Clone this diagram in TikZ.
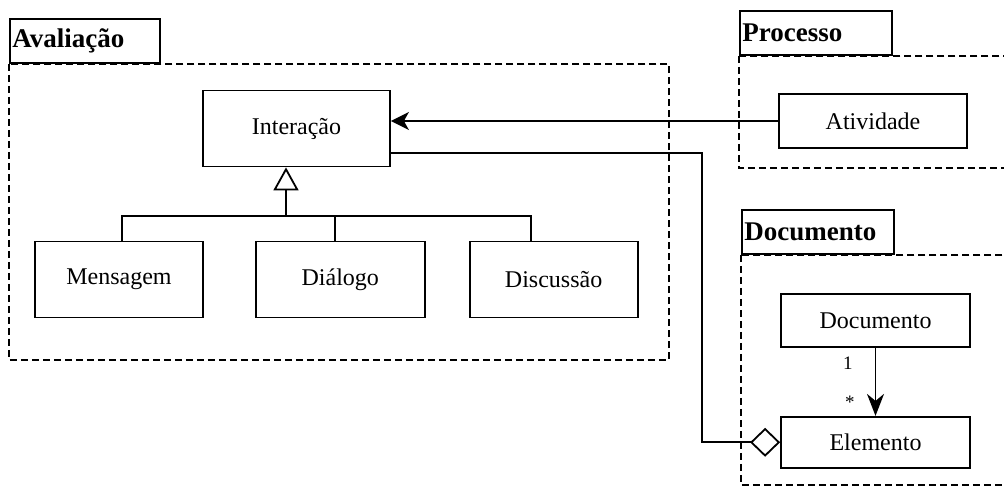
\documentclass[tikz,border=0pt]{standalone}
\usepackage{fontspec}
\setmainfont{Liberation Serif}
\newfontfamily\umlfont{Liberation Serif}
\usetikzlibrary{arrows.meta,positioning}

\begin{document}
\begin{tikzpicture}[x=1pt,y=-1pt,line width=1.8pt,
  font=\umlfont\fontsize{24}{28}\selectfont,
  cls/.style={draw,minimum width=#1,minimum height=76pt},
  pkgtab/.style={draw,anchor=north west,minimum height=44pt,text width=#1,
    inner xsep=2.5pt,align=left,font=\umlfont\bfseries\fontsize{27}{30}\selectfont},
  pkgbody/.style={draw,line width=1.6pt,dash pattern=on 7pt off 4pt},
  gen/.style={-{Triangle[open,length=23pt,width=25pt]}},
  nav/.style={-{Stealth[length=18pt,width=18pt,inset=5pt]}},
  agg/.style={-{Diamond[open,length=30pt,width=29pt]}},
  mult/.style={inner sep=0pt,font=\umlfont\fontsize{19}{22}\selectfont}]
\useasboundingbox (0,0) rectangle (1004,487);
\clip (0,0) rectangle (1004,487);
% packages: solid tab + dashed body
\node[pkgtab=145pt] (avTab) at (9,18) {Avaliação};
\draw[pkgbody] (avTab.south west) rectangle (669,360);
\node[pkgtab=147pt] (prTab) at (739,10) {Processo};
\draw[pkgbody] (prTab.south west) rectangle (1010,168);
\node[pkgtab=147pt] (doTab) at (741,209) {Documento};
\draw[pkgbody] (doTab.south west) rectangle (1010,485);
% classes
\node[cls=187pt] (interacao) at (296.5,128.5) {Interação};
\node[cls=168pt] (mensagem) at (119,279.5) {Mensagem};
\node[cls=169pt,right=51pt of mensagem] (dialogo) {Diálogo};
\node[cls=168pt,right=43pt of dialogo] (discussao) {Discussão};
\node[cls=188pt,minimum height=54pt] (atividade) at (873,121) {Atividade};
\node[cls=189pt,minimum height=53pt] (documento) at (875.5,320.5) {Documento};
\node[cls=189pt,minimum height=51pt,below=68pt of documento] (elemento) {Elemento};
% generalization tree
\coordinate (hub) at (286,216);
\draw ([xshift=3pt]mensagem.north) |- (hub) -| ([xshift=-23pt]discussao.north);
\draw ([xshift=-5.5pt]dialogo.north) -- ([xshift=-5.5pt]dialogo.north |- hub);
\draw[gen] (hub) -- (hub |- interacao.south);
% associations
\draw[nav] (atividade.west) -- (atividade.west -| interacao.east);
\coordinate (bend) at (702,300);
\draw[agg] ([yshift=-24.5pt]interacao.east) -| (bend) |- (elemento.west);
\draw[-{Stealth[length=22pt,width=17pt,inset=7pt]}] (documento.south) --
  node[mult,pos=0.22,left=22pt] {1} node[mult,pos=0.8,left=20pt] {*} (elemento.north);
\end{tikzpicture}
\end{document}
